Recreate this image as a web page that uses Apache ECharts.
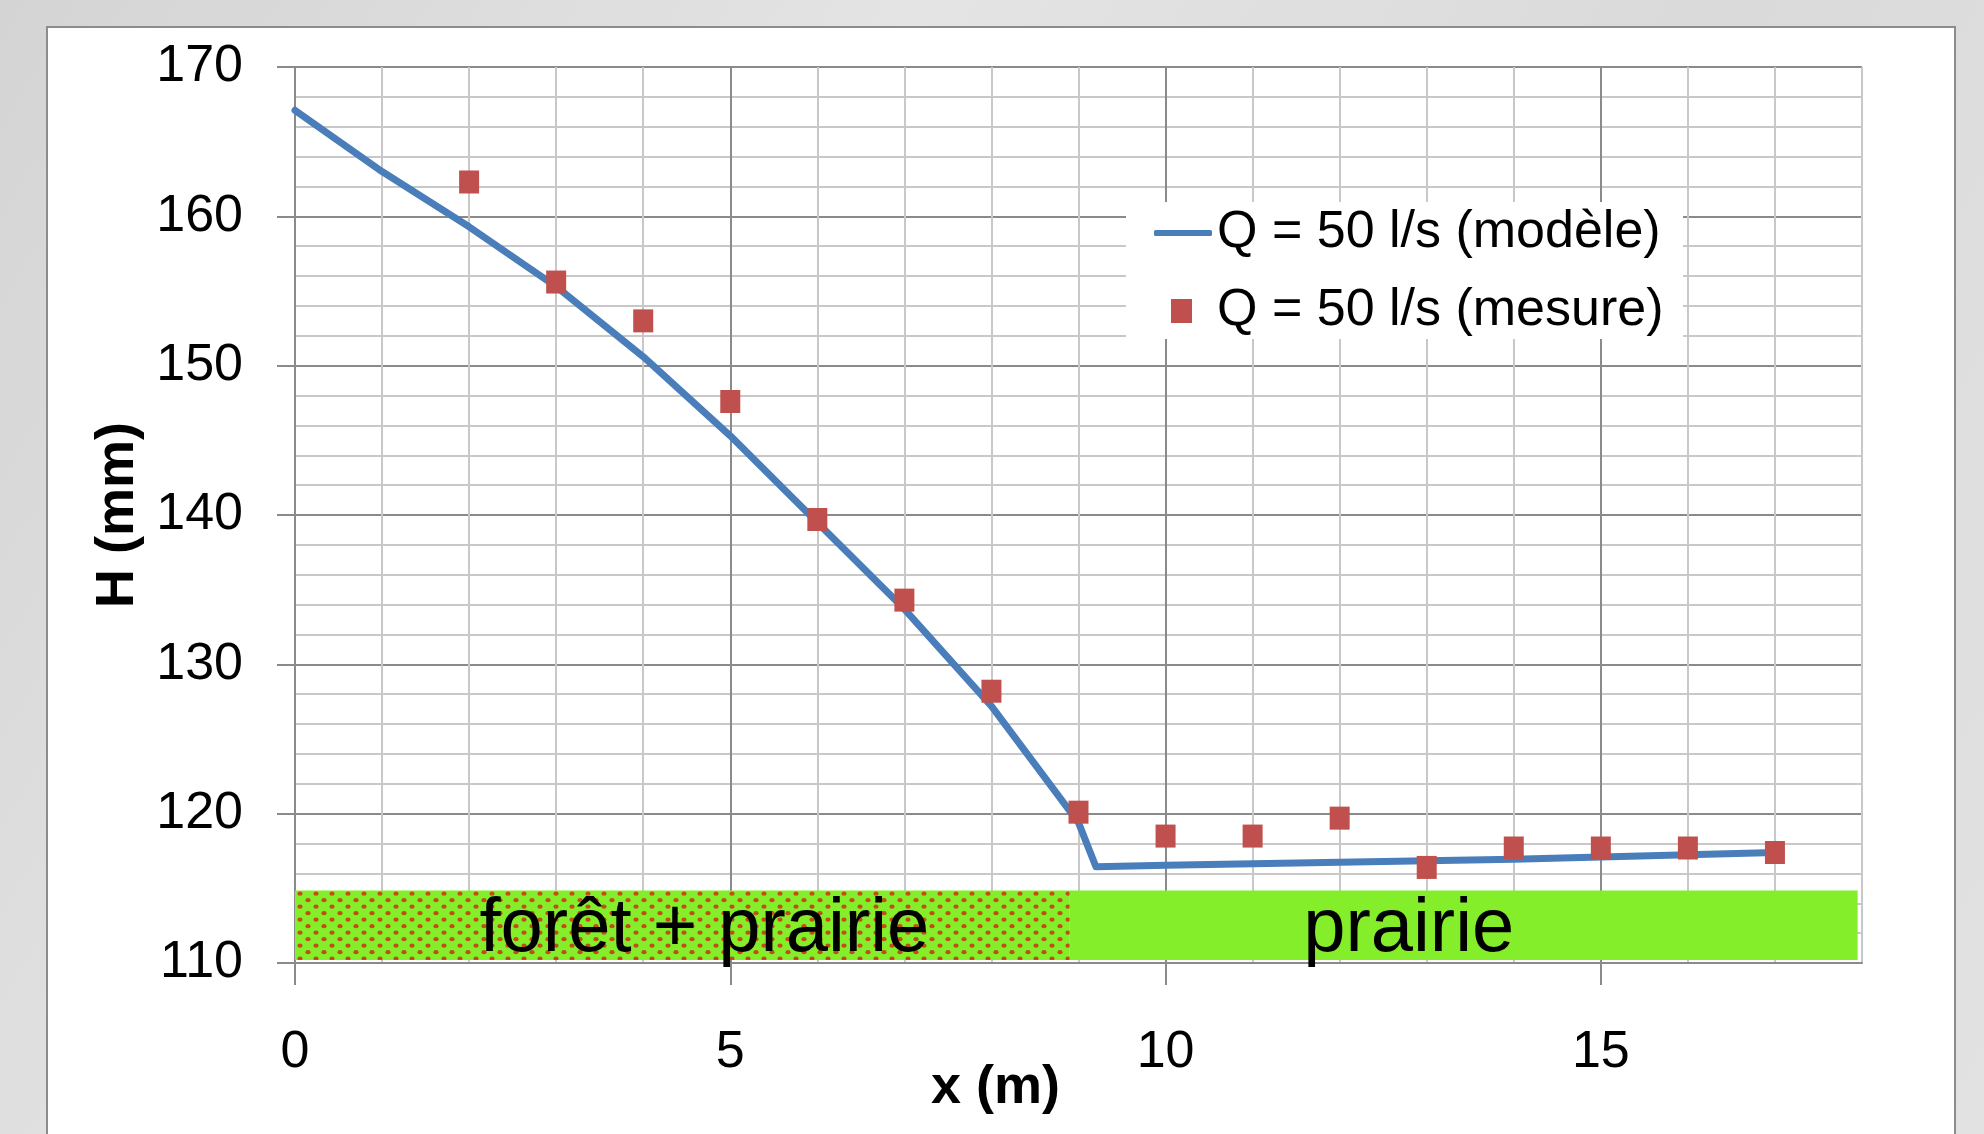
<!DOCTYPE html>
<html lang="fr">
  <head>
    <meta charset="UTF-8" />
    <title>H (mm)</title>
    <script src="https://cdn.jsdelivr.net/npm/echarts@6/dist/echarts.min.js"></script>
    <style>
      html,
      body {
        margin: 0;
        padding: 0;
      }
      body {
        width: 1984px;
        height: 1134px;
        position: relative;
        overflow: hidden;
        background: linear-gradient(120deg, #d4d4d4, #e4e4e4 35%, #dadada 65%, #e2e2e2);
      }
      #frame {
        position: absolute;
        left: 46px;
        top: 26px;
        width: 1906px;
        height: 1130px;
        background: #fff;
        border: 2px solid #8c8c8c;
      }
      #main {
        position: absolute;
        left: 0;
        top: 0;
        width: 1984px;
        height: 1134px;
      }
    </style>
  </head>

  <body>
    <div id="frame"></div>
    <div id="main"></div>
    <script type="text/javascript">
      // modèle
      var xModel = [0, 1, 2, 3, 4, 5, 6, 7, 8, 9, 9.2, 10, 11, 12, 13, 14, 15, 16, 17];
      var hModel = [167.1, 163.0, 159.3, 155.3, 150.6, 145.3, 139.5, 133.7, 127.2, 119.4,
        116.45, 116.55, 116.65, 116.75, 116.85, 116.95, 117.1, 117.25, 117.4];

      // mesure
      var xMesure = [2, 3, 4, 5, 6, 7, 8, 9, 10, 11, 12, 13, 14, 15, 16, 17];
      var hMesure = [162.3, 155.6, 153.0, 147.6, 139.7, 134.3, 128.2, 120.1,
        118.5, 118.5, 119.7, 116.4, 117.7, 117.7, 117.7, 117.4];

      // zones de végétation
      var zoneNames = ["forêt + prairie", "prairie"];
      var zoneStart = [0, 8.9];
      var zoneEnd = [8.9, 17.95];
      var zoneLow = [110.2, 110.2];
      var zoneHigh = [114.85, 114.85];

      var xTickValues = [0, 5, 10, 15];

      var FONT = "'Liberation Sans', Arial, sans-serif";
      var GREEN = "#84ee2a";
      var MAJOR = "#8a8a8a";
      var MINOR = "#c8c8c8";
      var BLUE = "#4a7ebb";
      var RED = "#c0504d";

      function dotPattern() {
        var c = document.createElement("canvas");
        c.width = 16;
        c.height = 13;
        var g = c.getContext("2d");
        g.fillStyle = GREEN;
        g.fillRect(0, 0, 16, 13);
        g.fillStyle = "#c24e16";
        [[4, 3.2], [12, 9.7]].forEach(function (p) {
          g.beginPath();
          g.ellipse(p[0], p[1], 2.6, 2.1, 0, 0, Math.PI * 2);
          g.fill();
        });
        return c;
      }

      function main() {
        var myChart = echarts.init(document.getElementById("main"));
        var pattern = { image: dotPattern(), repeat: "repeat" };
        var zoneFill = [pattern, GREEN];
        var zoneLabelShift = [[22, 5], [-55, 5]];

        var zones = zoneNames.map(function (n, i) {
          return [
            {
              name: n,
              coord: [zoneStart[i], zoneLow[i]],
              itemStyle: { color: zoneFill[i] },
              label: { offset: zoneLabelShift[i] },
            },
            { coord: [zoneEnd[i], zoneHigh[i]] },
          ];
        });

        const option = {
          animation: false,
          backgroundColor: "transparent",
          textStyle: { fontFamily: FONT },
          grid: {
            left: 295,
            top: 67,
            right: 122,
            bottom: 171,
            containLabel: false,
            outerBoundsMode: "none",
          },
          graphic: [
            {
              type: "rect",
              left: 1126,
              top: 202,
              z: 3,
              shape: { width: 557, height: 137 },
              style: { fill: "#fff" },
            },
          ],
          legend: [
            {
              data: [{ name: "Q = 50 l/s (modèle)", icon: "roundRect" }],
              left: 1154,
              top: 207,
              padding: 0,
              itemWidth: 58,
              itemHeight: 6,
              selectedMode: false,
              itemStyle: { color: BLUE },
              textStyle: { fontSize: 52, color: "#000", fontFamily: FONT },
            },
            {
              data: [{ name: "Q = 50 l/s (mesure)", icon: "rect" }],
              left: 1171,
              top: 285,
              padding: 0,
              itemWidth: 21,
              itemHeight: 24,
              selectedMode: false,
              itemStyle: { color: RED, opacity: 1 },
              textStyle: {
                fontSize: 52,
                color: "#000",
                fontFamily: FONT,
                padding: [0, 0, 0, 20],
              },
            },
          ],
          xAxis: [
            {
              type: "value",
              min: 0,
              max: 18,
              interval: 1,
              name: "x (m)",
              nameLocation: "middle",
              nameGap: 98,
              nameMoveOverlap: false,
              nameTextStyle: {
                fontSize: 54,
                fontWeight: "bold",
                color: "#000",
                fontFamily: FONT,
                padding: [0, 166, 0, 0],
              },
              axisLine: { show: true, lineStyle: { color: MAJOR, width: 2 } },
              axisTick: { show: false },
              axisLabel: {
                fontSize: 52,
                color: "#000",
                margin: 64,
                fontFamily: FONT,
                formatter: function (v) {
                  return xTickValues.indexOf(v) >= 0 ? String(v) : "";
                },
              },
              splitLine: {
                show: true,
                lineStyle: { color: [MAJOR, MINOR, MINOR, MINOR, MINOR], width: 2 },
              },
            },
            {
              // only the major ticks under the axis
              type: "value",
              min: 0,
              max: 18,
              interval: 5,
              position: "bottom",
              axisLine: { show: false },
              axisLabel: { show: false },
              splitLine: { show: false },
              axisTick: {
                show: true,
                length: 22,
                customValues: xTickValues,
                lineStyle: { color: MAJOR, width: 2 },
              },
            },
          ],
          yAxis: [
            {
              type: "value",
              min: 110,
              max: 170,
              interval: 10,
              name: "H (mm)",
              nameLocation: "middle",
              nameRotate: 90,
              nameGap: 150,
              nameMoveOverlap: false,
              nameTextStyle: {
                fontSize: 54,
                fontWeight: "bold",
                color: "#000",
                fontFamily: FONT,
              },
              axisLine: { show: true, lineStyle: { color: MAJOR, width: 2 } },
              axisTick: { show: true, length: 18, lineStyle: { color: MAJOR, width: 2 } },
              axisLabel: { fontSize: 52, color: "#000", margin: 52, fontFamily: FONT },
              splitLine: { show: true, lineStyle: { color: MAJOR, width: 2 } },
              minorTick: { show: false, splitNumber: 5 },
              minorSplitLine: { show: true, lineStyle: { color: MINOR, width: 2 } },
            },
          ],
          series: [
            {
              name: "Q = 50 l/s (modèle)",
              type: "line",
              data: xModel.map(function (x, i) {
                return [x, hModel[i]];
              }),
              symbol: "none",
              showSymbol: false,
              lineStyle: { color: BLUE, width: 7, cap: "round", join: "round" },
              itemStyle: { color: BLUE },
              z: 3,
            },
            {
              name: "Q = 50 l/s (mesure)",
              type: "scatter",
              data: xMesure.map(function (x, i) {
                return [x, hMesure[i]];
              }),
              symbol: "rect",
              symbolSize: [20, 23],
              itemStyle: { color: RED, opacity: 1 },
              z: 4,
              markArea: {
                silent: true,
                label: {
                  show: true,
                  position: "inside",
                  fontSize: 76,
                  color: "#000",
                  fontFamily: FONT,
                },
                emphasis: { disabled: true },
                data: zones,
              },
            },
          ],
        };
        myChart.setOption(option);
      }

      main();
    </script>
  </body>
</html>
